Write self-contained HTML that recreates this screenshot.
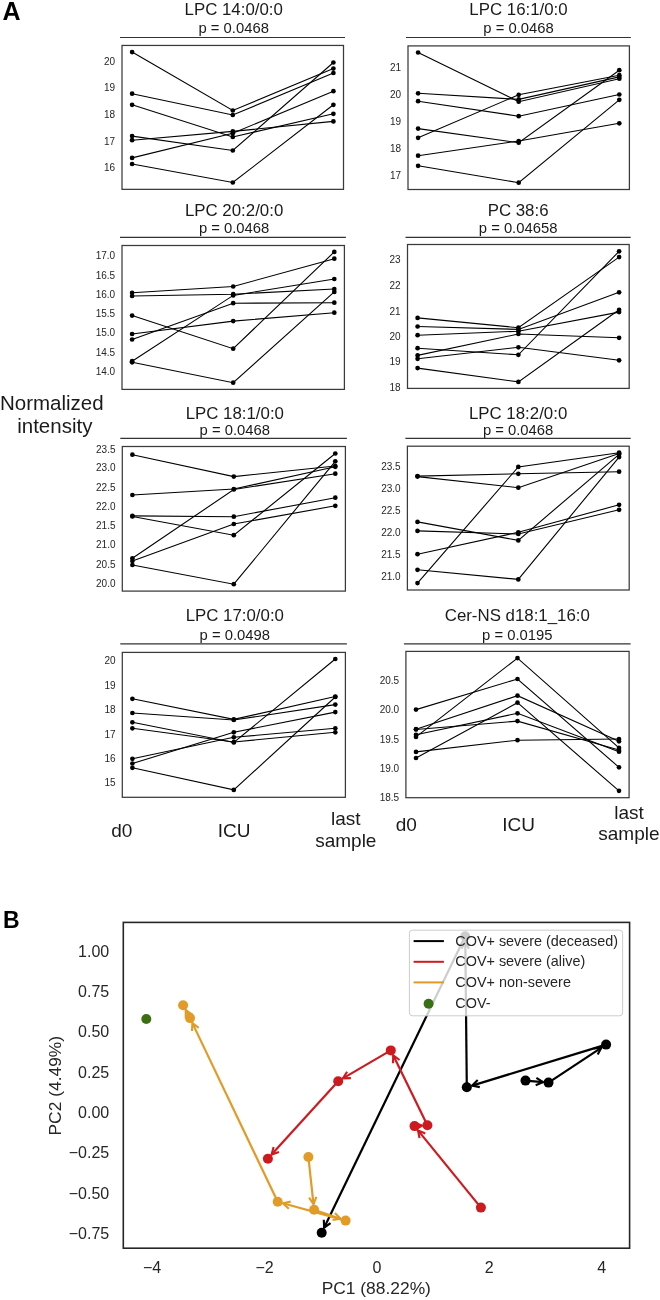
<!DOCTYPE html>
<html><head><meta charset="utf-8"><style>
html,body{margin:0;padding:0;background:#fff;}
body{width:660px;height:1300px;overflow:hidden;}
svg{display:block;font-family:"Liberation Sans",sans-serif;will-change:transform;}
</style></head><body>
<svg width="660" height="1300" viewBox="0 0 660 1300">
<rect width="660" height="1300" fill="#fff"/>
<text x="233.7" y="14.5" font-size="16.85" text-anchor="middle" font-weight="normal" fill="#1a1a1a" >LPC 14:0/0:0</text>
<text x="233.7" y="33.2" font-size="14.8" text-anchor="middle" font-weight="normal" fill="#1a1a1a" >p = 0.0468</text>
<line x1="120.0" y1="37.5" x2="345.0" y2="37.5" stroke="#333" stroke-width="1.2"/>
<rect x="122.0" y="45.45" width="221.5" height="143.9" fill="none" stroke="#3a3a3a" stroke-width="1.25"/>
<text x="115.2" y="64.8" font-size="10" text-anchor="end" font-weight="normal" fill="#262626" >20</text>
<text x="115.2" y="91.4" font-size="10" text-anchor="end" font-weight="normal" fill="#262626" >19</text>
<text x="115.2" y="117.9" font-size="10" text-anchor="end" font-weight="normal" fill="#262626" >18</text>
<text x="115.2" y="144.5" font-size="10" text-anchor="end" font-weight="normal" fill="#262626" >17</text>
<text x="115.2" y="171.3" font-size="10" text-anchor="end" font-weight="normal" fill="#262626" >16</text>
<polyline points="132.1,52.1 232.8,110.5 333.4,68.6" fill="none" stroke="#000" stroke-width="1.1"/>
<polyline points="132.1,93.7 232.8,115 333.4,73" fill="none" stroke="#000" stroke-width="1.1"/>
<polyline points="132.1,104.8 232.8,137 333.4,113.8" fill="none" stroke="#000" stroke-width="1.1"/>
<polyline points="132.1,136.1 232.8,150.5 333.4,62.5" fill="none" stroke="#000" stroke-width="1.1"/>
<polyline points="132.1,140.2 232.8,131.4 333.4,121.4" fill="none" stroke="#000" stroke-width="1.1"/>
<polyline points="132.1,157.9 232.8,133.2 333.4,91.2" fill="none" stroke="#000" stroke-width="1.1"/>
<polyline points="132.1,164 232.8,182.5 333.4,104.8" fill="none" stroke="#000" stroke-width="1.1"/>
<circle cx="132.1" cy="52.1" r="2.35" fill="#000"/>
<circle cx="232.8" cy="110.5" r="2.35" fill="#000"/>
<circle cx="333.4" cy="68.6" r="2.35" fill="#000"/>
<circle cx="132.1" cy="93.7" r="2.35" fill="#000"/>
<circle cx="232.8" cy="115" r="2.35" fill="#000"/>
<circle cx="333.4" cy="73" r="2.35" fill="#000"/>
<circle cx="132.1" cy="104.8" r="2.35" fill="#000"/>
<circle cx="232.8" cy="137" r="2.35" fill="#000"/>
<circle cx="333.4" cy="113.8" r="2.35" fill="#000"/>
<circle cx="132.1" cy="136.1" r="2.35" fill="#000"/>
<circle cx="232.8" cy="150.5" r="2.35" fill="#000"/>
<circle cx="333.4" cy="62.5" r="2.35" fill="#000"/>
<circle cx="132.1" cy="140.2" r="2.35" fill="#000"/>
<circle cx="232.8" cy="131.4" r="2.35" fill="#000"/>
<circle cx="333.4" cy="121.4" r="2.35" fill="#000"/>
<circle cx="132.1" cy="157.9" r="2.35" fill="#000"/>
<circle cx="232.8" cy="133.2" r="2.35" fill="#000"/>
<circle cx="333.4" cy="91.2" r="2.35" fill="#000"/>
<circle cx="132.1" cy="164" r="2.35" fill="#000"/>
<circle cx="232.8" cy="182.5" r="2.35" fill="#000"/>
<circle cx="333.4" cy="104.8" r="2.35" fill="#000"/>
<text x="518.5" y="14.5" font-size="16.85" text-anchor="middle" font-weight="normal" fill="#1a1a1a" >LPC 16:1/0:0</text>
<text x="518.5" y="33.2" font-size="14.8" text-anchor="middle" font-weight="normal" fill="#1a1a1a" >p = 0.0468</text>
<line x1="406.0" y1="37.5" x2="630.9" y2="37.5" stroke="#333" stroke-width="1.2"/>
<rect x="408.0" y="45.9" width="221.4" height="143.6" fill="none" stroke="#3a3a3a" stroke-width="1.25"/>
<text x="401.2" y="71.0" font-size="10" text-anchor="end" font-weight="normal" fill="#262626" >21</text>
<text x="401.2" y="97.7" font-size="10" text-anchor="end" font-weight="normal" fill="#262626" >20</text>
<text x="401.2" y="124.6" font-size="10" text-anchor="end" font-weight="normal" fill="#262626" >19</text>
<text x="401.2" y="151.7" font-size="10" text-anchor="end" font-weight="normal" fill="#262626" >18</text>
<text x="401.2" y="178.5" font-size="10" text-anchor="end" font-weight="normal" fill="#262626" >17</text>
<polyline points="418.1,52.5 518.7,101.7 619.3,78.7" fill="none" stroke="#000" stroke-width="1.1"/>
<polyline points="418.1,93.3 518.7,99.4 619.3,76.9" fill="none" stroke="#000" stroke-width="1.1"/>
<polyline points="418.1,101.2 518.7,116.2 619.3,94.5" fill="none" stroke="#000" stroke-width="1.1"/>
<polyline points="418.1,128.6 518.7,142.7 619.3,70.2" fill="none" stroke="#000" stroke-width="1.1"/>
<polyline points="418.1,137.8 518.7,94.8 619.3,75.2" fill="none" stroke="#000" stroke-width="1.1"/>
<polyline points="418.1,155.7 518.7,141 619.3,123.3" fill="none" stroke="#000" stroke-width="1.1"/>
<polyline points="418.1,165.8 518.7,182.7 619.3,99.8" fill="none" stroke="#000" stroke-width="1.1"/>
<circle cx="418.1" cy="52.5" r="2.35" fill="#000"/>
<circle cx="518.7" cy="101.7" r="2.35" fill="#000"/>
<circle cx="619.3" cy="78.7" r="2.35" fill="#000"/>
<circle cx="418.1" cy="93.3" r="2.35" fill="#000"/>
<circle cx="518.7" cy="99.4" r="2.35" fill="#000"/>
<circle cx="619.3" cy="76.9" r="2.35" fill="#000"/>
<circle cx="418.1" cy="101.2" r="2.35" fill="#000"/>
<circle cx="518.7" cy="116.2" r="2.35" fill="#000"/>
<circle cx="619.3" cy="94.5" r="2.35" fill="#000"/>
<circle cx="418.1" cy="128.6" r="2.35" fill="#000"/>
<circle cx="518.7" cy="142.7" r="2.35" fill="#000"/>
<circle cx="619.3" cy="70.2" r="2.35" fill="#000"/>
<circle cx="418.1" cy="137.8" r="2.35" fill="#000"/>
<circle cx="518.7" cy="94.8" r="2.35" fill="#000"/>
<circle cx="619.3" cy="75.2" r="2.35" fill="#000"/>
<circle cx="418.1" cy="155.7" r="2.35" fill="#000"/>
<circle cx="518.7" cy="141" r="2.35" fill="#000"/>
<circle cx="619.3" cy="123.3" r="2.35" fill="#000"/>
<circle cx="418.1" cy="165.8" r="2.35" fill="#000"/>
<circle cx="518.7" cy="182.7" r="2.35" fill="#000"/>
<circle cx="619.3" cy="99.8" r="2.35" fill="#000"/>
<text x="234.1" y="215.9" font-size="16.85" text-anchor="middle" font-weight="normal" fill="#1a1a1a" >LPC 20:2/0:0</text>
<text x="234.1" y="233.2" font-size="14.8" text-anchor="middle" font-weight="normal" fill="#1a1a1a" >p = 0.0468</text>
<line x1="120.0" y1="237.4" x2="345.9" y2="237.4" stroke="#333" stroke-width="1.2"/>
<rect x="122.0" y="245.5" width="222.4" height="143.9" fill="none" stroke="#3a3a3a" stroke-width="1.25"/>
<text x="115.2" y="259.1" font-size="10" text-anchor="end" font-weight="normal" fill="#262626" >17.0</text>
<text x="115.2" y="278.5" font-size="10" text-anchor="end" font-weight="normal" fill="#262626" >16.5</text>
<text x="115.2" y="297.7" font-size="10" text-anchor="end" font-weight="normal" fill="#262626" >16.0</text>
<text x="115.2" y="317.1" font-size="10" text-anchor="end" font-weight="normal" fill="#262626" >15.5</text>
<text x="115.2" y="336.4" font-size="10" text-anchor="end" font-weight="normal" fill="#262626" >15.0</text>
<text x="115.2" y="356.0" font-size="10" text-anchor="end" font-weight="normal" fill="#262626" >14.5</text>
<text x="115.2" y="375.4" font-size="10" text-anchor="end" font-weight="normal" fill="#262626" >14.0</text>
<polyline points="132.1,292.8 233.2,286.5 334.3,258.7" fill="none" stroke="#000" stroke-width="1.1"/>
<polyline points="132.1,296 233.2,294.2 334.3,289" fill="none" stroke="#000" stroke-width="1.1"/>
<polyline points="132.1,315.6 233.2,348.7 334.3,251.9" fill="none" stroke="#000" stroke-width="1.1"/>
<polyline points="132.1,334 233.2,321.1 334.3,312.7" fill="none" stroke="#000" stroke-width="1.1"/>
<polyline points="132.1,339.5 233.2,303.2 334.3,302.7" fill="none" stroke="#000" stroke-width="1.1"/>
<polyline points="132.1,361.2 233.2,295.4 334.3,279" fill="none" stroke="#000" stroke-width="1.1"/>
<polyline points="132.1,362.3 233.2,382.7 334.3,291.9" fill="none" stroke="#000" stroke-width="1.1"/>
<circle cx="132.1" cy="292.8" r="2.35" fill="#000"/>
<circle cx="233.2" cy="286.5" r="2.35" fill="#000"/>
<circle cx="334.3" cy="258.7" r="2.35" fill="#000"/>
<circle cx="132.1" cy="296" r="2.35" fill="#000"/>
<circle cx="233.2" cy="294.2" r="2.35" fill="#000"/>
<circle cx="334.3" cy="289" r="2.35" fill="#000"/>
<circle cx="132.1" cy="315.6" r="2.35" fill="#000"/>
<circle cx="233.2" cy="348.7" r="2.35" fill="#000"/>
<circle cx="334.3" cy="251.9" r="2.35" fill="#000"/>
<circle cx="132.1" cy="334" r="2.35" fill="#000"/>
<circle cx="233.2" cy="321.1" r="2.35" fill="#000"/>
<circle cx="334.3" cy="312.7" r="2.35" fill="#000"/>
<circle cx="132.1" cy="339.5" r="2.35" fill="#000"/>
<circle cx="233.2" cy="303.2" r="2.35" fill="#000"/>
<circle cx="334.3" cy="302.7" r="2.35" fill="#000"/>
<circle cx="132.1" cy="361.2" r="2.35" fill="#000"/>
<circle cx="233.2" cy="295.4" r="2.35" fill="#000"/>
<circle cx="334.3" cy="279" r="2.35" fill="#000"/>
<circle cx="132.1" cy="362.3" r="2.35" fill="#000"/>
<circle cx="233.2" cy="382.7" r="2.35" fill="#000"/>
<circle cx="334.3" cy="291.9" r="2.35" fill="#000"/>
<text x="518.1" y="215.9" font-size="16.85" text-anchor="middle" font-weight="normal" fill="#1a1a1a" >PC 38:6</text>
<text x="518.1" y="233.2" font-size="14.8" text-anchor="middle" font-weight="normal" fill="#1a1a1a" >p = 0.04658</text>
<line x1="405.5" y1="237.4" x2="630.7" y2="237.4" stroke="#333" stroke-width="1.2"/>
<rect x="407.5" y="244.5" width="221.7" height="143.9" fill="none" stroke="#3a3a3a" stroke-width="1.25"/>
<text x="400.7" y="263.3" font-size="10" text-anchor="end" font-weight="normal" fill="#262626" >23</text>
<text x="400.7" y="288.7" font-size="10" text-anchor="end" font-weight="normal" fill="#262626" >22</text>
<text x="400.7" y="314.5" font-size="10" text-anchor="end" font-weight="normal" fill="#262626" >21</text>
<text x="400.7" y="339.8" font-size="10" text-anchor="end" font-weight="normal" fill="#262626" >20</text>
<text x="400.7" y="365.2" font-size="10" text-anchor="end" font-weight="normal" fill="#262626" >19</text>
<text x="400.7" y="391.3" font-size="10" text-anchor="end" font-weight="normal" fill="#262626" >18</text>
<polyline points="417.6,317.9 518.4,327.7 619.1,257.1" fill="none" stroke="#000" stroke-width="1.1"/>
<polyline points="417.6,326.5 518.4,329.4 619.1,292.3" fill="none" stroke="#000" stroke-width="1.1"/>
<polyline points="417.6,335.2 518.4,331.2 619.1,312.1" fill="none" stroke="#000" stroke-width="1.1"/>
<polyline points="417.6,348.2 518.4,354.8 619.1,251.3" fill="none" stroke="#000" stroke-width="1.1"/>
<polyline points="417.6,355.4 518.4,334 619.1,337.8" fill="none" stroke="#000" stroke-width="1.1"/>
<polyline points="417.6,358.8 518.4,347.3 619.1,360.3" fill="none" stroke="#000" stroke-width="1.1"/>
<polyline points="417.6,368.1 518.4,381.9 619.1,309.8" fill="none" stroke="#000" stroke-width="1.1"/>
<circle cx="417.6" cy="317.9" r="2.35" fill="#000"/>
<circle cx="518.4" cy="327.7" r="2.35" fill="#000"/>
<circle cx="619.1" cy="257.1" r="2.35" fill="#000"/>
<circle cx="417.6" cy="326.5" r="2.35" fill="#000"/>
<circle cx="518.4" cy="329.4" r="2.35" fill="#000"/>
<circle cx="619.1" cy="292.3" r="2.35" fill="#000"/>
<circle cx="417.6" cy="335.2" r="2.35" fill="#000"/>
<circle cx="518.4" cy="331.2" r="2.35" fill="#000"/>
<circle cx="619.1" cy="312.1" r="2.35" fill="#000"/>
<circle cx="417.6" cy="348.2" r="2.35" fill="#000"/>
<circle cx="518.4" cy="354.8" r="2.35" fill="#000"/>
<circle cx="619.1" cy="251.3" r="2.35" fill="#000"/>
<circle cx="417.6" cy="355.4" r="2.35" fill="#000"/>
<circle cx="518.4" cy="334" r="2.35" fill="#000"/>
<circle cx="619.1" cy="337.8" r="2.35" fill="#000"/>
<circle cx="417.6" cy="358.8" r="2.35" fill="#000"/>
<circle cx="518.4" cy="347.3" r="2.35" fill="#000"/>
<circle cx="619.1" cy="360.3" r="2.35" fill="#000"/>
<circle cx="417.6" cy="368.1" r="2.35" fill="#000"/>
<circle cx="518.4" cy="381.9" r="2.35" fill="#000"/>
<circle cx="619.1" cy="309.8" r="2.35" fill="#000"/>
<text x="234.8" y="418.6" font-size="16.85" text-anchor="middle" font-weight="normal" fill="#1a1a1a" >LPC 18:1/0:0</text>
<text x="234.8" y="434.5" font-size="14.8" text-anchor="middle" font-weight="normal" fill="#1a1a1a" >p = 0.0468</text>
<line x1="120.3" y1="438.4" x2="346.9" y2="438.4" stroke="#333" stroke-width="1.2"/>
<rect x="122.3" y="446.5" width="223.1" height="144.6" fill="none" stroke="#3a3a3a" stroke-width="1.25"/>
<text x="115.5" y="452.5" font-size="10" text-anchor="end" font-weight="normal" fill="#262626" >23.5</text>
<text x="115.5" y="471.2" font-size="10" text-anchor="end" font-weight="normal" fill="#262626" >23.0</text>
<text x="115.5" y="490.6" font-size="10" text-anchor="end" font-weight="normal" fill="#262626" >22.5</text>
<text x="115.5" y="509.8" font-size="10" text-anchor="end" font-weight="normal" fill="#262626" >22.0</text>
<text x="115.5" y="529.1" font-size="10" text-anchor="end" font-weight="normal" fill="#262626" >21.5</text>
<text x="115.5" y="548.3" font-size="10" text-anchor="end" font-weight="normal" fill="#262626" >21.0</text>
<text x="115.5" y="567.5" font-size="10" text-anchor="end" font-weight="normal" fill="#262626" >20.5</text>
<text x="115.5" y="586.6" font-size="10" text-anchor="end" font-weight="normal" fill="#262626" >20.0</text>
<polyline points="132.4,454.7 233.8,476.6 335.3,466" fill="none" stroke="#000" stroke-width="1.1"/>
<polyline points="132.4,495 233.8,489 335.3,466.8" fill="none" stroke="#000" stroke-width="1.1"/>
<polyline points="132.4,515.9 233.8,516.7 335.3,497.7" fill="none" stroke="#000" stroke-width="1.1"/>
<polyline points="132.4,516.5 233.8,535.2 335.3,453.5" fill="none" stroke="#000" stroke-width="1.1"/>
<polyline points="132.4,558.3 233.8,489.5 335.3,473.7" fill="none" stroke="#000" stroke-width="1.1"/>
<polyline points="132.4,561 233.8,524 335.3,505.8" fill="none" stroke="#000" stroke-width="1.1"/>
<polyline points="132.4,565 233.8,584.2 335.3,461.3" fill="none" stroke="#000" stroke-width="1.1"/>
<circle cx="132.4" cy="454.7" r="2.35" fill="#000"/>
<circle cx="233.8" cy="476.6" r="2.35" fill="#000"/>
<circle cx="335.3" cy="466" r="2.35" fill="#000"/>
<circle cx="132.4" cy="495" r="2.35" fill="#000"/>
<circle cx="233.8" cy="489" r="2.35" fill="#000"/>
<circle cx="335.3" cy="466.8" r="2.35" fill="#000"/>
<circle cx="132.4" cy="515.9" r="2.35" fill="#000"/>
<circle cx="233.8" cy="516.7" r="2.35" fill="#000"/>
<circle cx="335.3" cy="497.7" r="2.35" fill="#000"/>
<circle cx="132.4" cy="516.5" r="2.35" fill="#000"/>
<circle cx="233.8" cy="535.2" r="2.35" fill="#000"/>
<circle cx="335.3" cy="453.5" r="2.35" fill="#000"/>
<circle cx="132.4" cy="558.3" r="2.35" fill="#000"/>
<circle cx="233.8" cy="489.5" r="2.35" fill="#000"/>
<circle cx="335.3" cy="473.7" r="2.35" fill="#000"/>
<circle cx="132.4" cy="561" r="2.35" fill="#000"/>
<circle cx="233.8" cy="524" r="2.35" fill="#000"/>
<circle cx="335.3" cy="505.8" r="2.35" fill="#000"/>
<circle cx="132.4" cy="565" r="2.35" fill="#000"/>
<circle cx="233.8" cy="584.2" r="2.35" fill="#000"/>
<circle cx="335.3" cy="461.3" r="2.35" fill="#000"/>
<text x="518.1" y="418.6" font-size="16.85" text-anchor="middle" font-weight="normal" fill="#1a1a1a" >LPC 18:2/0:0</text>
<text x="518.1" y="434.5" font-size="14.8" text-anchor="middle" font-weight="normal" fill="#1a1a1a" >p = 0.0468</text>
<line x1="405.4" y1="438.4" x2="630.7" y2="438.4" stroke="#333" stroke-width="1.2"/>
<rect x="407.4" y="446.2" width="221.8" height="143.8" fill="none" stroke="#3a3a3a" stroke-width="1.25"/>
<text x="400.6" y="469.8" font-size="10" text-anchor="end" font-weight="normal" fill="#262626" >23.5</text>
<text x="400.6" y="492.0" font-size="10" text-anchor="end" font-weight="normal" fill="#262626" >23.0</text>
<text x="400.6" y="513.9" font-size="10" text-anchor="end" font-weight="normal" fill="#262626" >22.5</text>
<text x="400.6" y="535.8" font-size="10" text-anchor="end" font-weight="normal" fill="#262626" >22.0</text>
<text x="400.6" y="558.1" font-size="10" text-anchor="end" font-weight="normal" fill="#262626" >21.5</text>
<text x="400.6" y="580.2" font-size="10" text-anchor="end" font-weight="normal" fill="#262626" >21.0</text>
<polyline points="417.5,476.1 518.3,473.8 619.1,471.7" fill="none" stroke="#000" stroke-width="1.1"/>
<polyline points="417.5,476.6 518.3,487.7 619.1,453.5" fill="none" stroke="#000" stroke-width="1.1"/>
<polyline points="417.5,521.9 518.3,540.4 619.1,454.4" fill="none" stroke="#000" stroke-width="1.1"/>
<polyline points="417.5,530.9 518.3,534 619.1,509.8" fill="none" stroke="#000" stroke-width="1.1"/>
<polyline points="417.5,554.2 518.3,532.3 619.1,504.8" fill="none" stroke="#000" stroke-width="1.1"/>
<polyline points="417.5,569.8 518.3,579.4 619.1,457.1" fill="none" stroke="#000" stroke-width="1.1"/>
<polyline points="417.5,583.1 518.3,466.9 619.1,452.7" fill="none" stroke="#000" stroke-width="1.1"/>
<circle cx="417.5" cy="476.1" r="2.35" fill="#000"/>
<circle cx="518.3" cy="473.8" r="2.35" fill="#000"/>
<circle cx="619.1" cy="471.7" r="2.35" fill="#000"/>
<circle cx="417.5" cy="476.6" r="2.35" fill="#000"/>
<circle cx="518.3" cy="487.7" r="2.35" fill="#000"/>
<circle cx="619.1" cy="453.5" r="2.35" fill="#000"/>
<circle cx="417.5" cy="521.9" r="2.35" fill="#000"/>
<circle cx="518.3" cy="540.4" r="2.35" fill="#000"/>
<circle cx="619.1" cy="454.4" r="2.35" fill="#000"/>
<circle cx="417.5" cy="530.9" r="2.35" fill="#000"/>
<circle cx="518.3" cy="534" r="2.35" fill="#000"/>
<circle cx="619.1" cy="509.8" r="2.35" fill="#000"/>
<circle cx="417.5" cy="554.2" r="2.35" fill="#000"/>
<circle cx="518.3" cy="532.3" r="2.35" fill="#000"/>
<circle cx="619.1" cy="504.8" r="2.35" fill="#000"/>
<circle cx="417.5" cy="569.8" r="2.35" fill="#000"/>
<circle cx="518.3" cy="579.4" r="2.35" fill="#000"/>
<circle cx="619.1" cy="457.1" r="2.35" fill="#000"/>
<circle cx="417.5" cy="583.1" r="2.35" fill="#000"/>
<circle cx="518.3" cy="466.9" r="2.35" fill="#000"/>
<circle cx="619.1" cy="452.7" r="2.35" fill="#000"/>
<text x="234.8" y="620.9" font-size="16.85" text-anchor="middle" font-weight="normal" fill="#1a1a1a" >LPC 17:0/0:0</text>
<text x="234.8" y="639.5" font-size="14.8" text-anchor="middle" font-weight="normal" fill="#1a1a1a" >p = 0.0498</text>
<line x1="120.3" y1="643.9" x2="346.9" y2="643.9" stroke="#333" stroke-width="1.2"/>
<rect x="122.3" y="652.4" width="223.1" height="144.9" fill="none" stroke="#3a3a3a" stroke-width="1.25"/>
<text x="115.5" y="664.3" font-size="10" text-anchor="end" font-weight="normal" fill="#262626" >20</text>
<text x="115.5" y="688.7" font-size="10" text-anchor="end" font-weight="normal" fill="#262626" >19</text>
<text x="115.5" y="713.3" font-size="10" text-anchor="end" font-weight="normal" fill="#262626" >18</text>
<text x="115.5" y="737.5" font-size="10" text-anchor="end" font-weight="normal" fill="#262626" >17</text>
<text x="115.5" y="761.8" font-size="10" text-anchor="end" font-weight="normal" fill="#262626" >16</text>
<text x="115.5" y="786.3" font-size="10" text-anchor="end" font-weight="normal" fill="#262626" >15</text>
<polyline points="132.4,698.8 233.8,719.4 335.3,696.5" fill="none" stroke="#000" stroke-width="1.1"/>
<polyline points="132.4,713 233.8,720 335.3,704.6" fill="none" stroke="#000" stroke-width="1.1"/>
<polyline points="132.4,722.3 233.8,742.5 335.3,659" fill="none" stroke="#000" stroke-width="1.1"/>
<polyline points="132.4,728.3 233.8,742 335.3,732.3" fill="none" stroke="#000" stroke-width="1.1"/>
<polyline points="132.4,758.8 233.8,737.3 335.3,728.3" fill="none" stroke="#000" stroke-width="1.1"/>
<polyline points="132.4,763.5 233.8,732.3 335.3,712.1" fill="none" stroke="#000" stroke-width="1.1"/>
<polyline points="132.4,767.8 233.8,789.9 335.3,697" fill="none" stroke="#000" stroke-width="1.1"/>
<circle cx="132.4" cy="698.8" r="2.35" fill="#000"/>
<circle cx="233.8" cy="719.4" r="2.35" fill="#000"/>
<circle cx="335.3" cy="696.5" r="2.35" fill="#000"/>
<circle cx="132.4" cy="713" r="2.35" fill="#000"/>
<circle cx="233.8" cy="720" r="2.35" fill="#000"/>
<circle cx="335.3" cy="704.6" r="2.35" fill="#000"/>
<circle cx="132.4" cy="722.3" r="2.35" fill="#000"/>
<circle cx="233.8" cy="742.5" r="2.35" fill="#000"/>
<circle cx="335.3" cy="659" r="2.35" fill="#000"/>
<circle cx="132.4" cy="728.3" r="2.35" fill="#000"/>
<circle cx="233.8" cy="742" r="2.35" fill="#000"/>
<circle cx="335.3" cy="732.3" r="2.35" fill="#000"/>
<circle cx="132.4" cy="758.8" r="2.35" fill="#000"/>
<circle cx="233.8" cy="737.3" r="2.35" fill="#000"/>
<circle cx="335.3" cy="728.3" r="2.35" fill="#000"/>
<circle cx="132.4" cy="763.5" r="2.35" fill="#000"/>
<circle cx="233.8" cy="732.3" r="2.35" fill="#000"/>
<circle cx="335.3" cy="712.1" r="2.35" fill="#000"/>
<circle cx="132.4" cy="767.8" r="2.35" fill="#000"/>
<circle cx="233.8" cy="789.9" r="2.35" fill="#000"/>
<circle cx="335.3" cy="697" r="2.35" fill="#000"/>
<text x="517.3" y="620.9" font-size="16.85" text-anchor="middle" font-weight="normal" fill="#1a1a1a" >Cer-NS d18:1_16:0</text>
<text x="517.3" y="639.5" font-size="14.8" text-anchor="middle" font-weight="normal" fill="#1a1a1a" >p = 0.0195</text>
<line x1="403.9" y1="643.9" x2="630.6" y2="643.9" stroke="#333" stroke-width="1.2"/>
<rect x="405.9" y="651.4" width="223.2" height="146.3" fill="none" stroke="#3a3a3a" stroke-width="1.25"/>
<text x="399.1" y="683.9" font-size="10" text-anchor="end" font-weight="normal" fill="#262626" >20.5</text>
<text x="399.1" y="713.1" font-size="10" text-anchor="end" font-weight="normal" fill="#262626" >20.0</text>
<text x="399.1" y="742.7" font-size="10" text-anchor="end" font-weight="normal" fill="#262626" >19.5</text>
<text x="399.1" y="771.6" font-size="10" text-anchor="end" font-weight="normal" fill="#262626" >19.0</text>
<text x="399.1" y="801.1" font-size="10" text-anchor="end" font-weight="normal" fill="#262626" >18.5</text>
<polyline points="416.0,709.6 517.5,679 619.0,767.3" fill="none" stroke="#000" stroke-width="1.1"/>
<polyline points="416.0,729.2 517.5,695.7 619.0,741.3" fill="none" stroke="#000" stroke-width="1.1"/>
<polyline points="416.0,736.9 517.5,658.1 619.0,747.9" fill="none" stroke="#000" stroke-width="1.1"/>
<polyline points="416.0,758 517.5,702.7 619.0,790.8" fill="none" stroke="#000" stroke-width="1.1"/>
<polyline points="416.0,734.8 517.5,713.3 619.0,751.7" fill="none" stroke="#000" stroke-width="1.1"/>
<polyline points="416.0,729.5 517.5,721.1 619.0,750" fill="none" stroke="#000" stroke-width="1.1"/>
<polyline points="416.0,751.9 517.5,740.2 619.0,739" fill="none" stroke="#000" stroke-width="1.1"/>
<circle cx="416.0" cy="709.6" r="2.35" fill="#000"/>
<circle cx="517.5" cy="679" r="2.35" fill="#000"/>
<circle cx="619.0" cy="767.3" r="2.35" fill="#000"/>
<circle cx="416.0" cy="729.2" r="2.35" fill="#000"/>
<circle cx="517.5" cy="695.7" r="2.35" fill="#000"/>
<circle cx="619.0" cy="741.3" r="2.35" fill="#000"/>
<circle cx="416.0" cy="736.9" r="2.35" fill="#000"/>
<circle cx="517.5" cy="658.1" r="2.35" fill="#000"/>
<circle cx="619.0" cy="747.9" r="2.35" fill="#000"/>
<circle cx="416.0" cy="758" r="2.35" fill="#000"/>
<circle cx="517.5" cy="702.7" r="2.35" fill="#000"/>
<circle cx="619.0" cy="790.8" r="2.35" fill="#000"/>
<circle cx="416.0" cy="734.8" r="2.35" fill="#000"/>
<circle cx="517.5" cy="713.3" r="2.35" fill="#000"/>
<circle cx="619.0" cy="751.7" r="2.35" fill="#000"/>
<circle cx="416.0" cy="729.5" r="2.35" fill="#000"/>
<circle cx="517.5" cy="721.1" r="2.35" fill="#000"/>
<circle cx="619.0" cy="750" r="2.35" fill="#000"/>
<circle cx="416.0" cy="751.9" r="2.35" fill="#000"/>
<circle cx="517.5" cy="740.2" r="2.35" fill="#000"/>
<circle cx="619.0" cy="739" r="2.35" fill="#000"/>
<text x="2.5" y="20.0" font-size="25" text-anchor="start" font-weight="bold" fill="#000" >A</text>
<text x="3.0" y="928.2" font-size="23" text-anchor="start" font-weight="bold" fill="#000" >B</text>
<text x="51.8" y="410.0" font-size="20.5" text-anchor="middle" font-weight="normal" fill="#1a1a1a" >Normalized</text>
<text x="54.8" y="432.7" font-size="20.5" text-anchor="middle" font-weight="normal" fill="#1a1a1a" >intensity</text>
<text x="121.8" y="837.3" font-size="19" text-anchor="middle" font-weight="normal" fill="#1a1a1a" >d0</text>
<text x="234.0" y="837.3" font-size="19" text-anchor="middle" font-weight="normal" fill="#1a1a1a" >ICU</text>
<text x="345.8" y="825.3" font-size="19" text-anchor="middle" font-weight="normal" fill="#1a1a1a" >last</text>
<text x="345.8" y="846.7" font-size="19" text-anchor="middle" font-weight="normal" fill="#1a1a1a" >sample</text>
<text x="406.2" y="831.1" font-size="19" text-anchor="middle" font-weight="normal" fill="#1a1a1a" >d0</text>
<text x="518.6" y="830.8" font-size="19" text-anchor="middle" font-weight="normal" fill="#1a1a1a" >ICU</text>
<text x="629.0" y="819.0" font-size="19" text-anchor="middle" font-weight="normal" fill="#1a1a1a" >last</text>
<text x="628.9" y="840.2" font-size="19" text-anchor="middle" font-weight="normal" fill="#1a1a1a" >sample</text>
<text x="152.1" y="1273.1" font-size="16" text-anchor="middle" font-weight="normal" fill="#262626" >−4</text>
<text x="264.5" y="1273.1" font-size="16" text-anchor="middle" font-weight="normal" fill="#262626" >−2</text>
<text x="376.9" y="1273.1" font-size="16" text-anchor="middle" font-weight="normal" fill="#262626" >0</text>
<text x="489.3" y="1273.1" font-size="16" text-anchor="middle" font-weight="normal" fill="#262626" >2</text>
<text x="601.7" y="1273.1" font-size="16" text-anchor="middle" font-weight="normal" fill="#262626" >4</text>
<text x="109.2" y="956.5" font-size="16" text-anchor="end" font-weight="normal" fill="#262626" >1.00</text>
<text x="109.2" y="996.9" font-size="16" text-anchor="end" font-weight="normal" fill="#262626" >0.75</text>
<text x="109.2" y="1037.2" font-size="16" text-anchor="end" font-weight="normal" fill="#262626" >0.50</text>
<text x="109.2" y="1077.6" font-size="16" text-anchor="end" font-weight="normal" fill="#262626" >0.25</text>
<text x="109.2" y="1117.9" font-size="16" text-anchor="end" font-weight="normal" fill="#262626" >0.00</text>
<text x="109.2" y="1158.2" font-size="16" text-anchor="end" font-weight="normal" fill="#262626" >−0.25</text>
<text x="109.2" y="1198.6" font-size="16" text-anchor="end" font-weight="normal" fill="#262626" >−0.50</text>
<text x="109.2" y="1239.0" font-size="16" text-anchor="end" font-weight="normal" fill="#262626" >−0.75</text>
<text x="376.3" y="1294.2" font-size="17.4" text-anchor="middle" font-weight="normal" fill="#262626" >PC1 (88.22%)</text>
<text x="0" y="0" font-size="17.4" text-anchor="middle" fill="#262626" transform="translate(60.8,1085.7) rotate(-90)">PC2 (4.49%)</text>
<line x1="525.5" y1="1080.6" x2="543.0" y2="1082.1" stroke="#000000" stroke-width="2.2"/>
<polyline points="535.7,1085.2 543.0,1082.1 536.4,1077.8" fill="none" stroke="#000000" stroke-width="2.1" stroke-linejoin="miter"/>
<line x1="548.5" y1="1082.6" x2="601.5" y2="1047.6" stroke="#000000" stroke-width="2.2"/>
<polyline points="597.7,1054.6 601.5,1047.6 593.6,1048.4" fill="none" stroke="#000000" stroke-width="2.1" stroke-linejoin="miter"/>
<line x1="606.1" y1="1044.6" x2="472.1" y2="1085.6" stroke="#000000" stroke-width="2.2"/>
<polyline points="477.7,1080.0 472.1,1085.6 479.8,1087.1" fill="none" stroke="#000000" stroke-width="2.1" stroke-linejoin="miter"/>
<line x1="466.8" y1="1087.2" x2="465.3" y2="941.7" stroke="#000000" stroke-width="2.2"/>
<polyline points="469.0,948.7 465.3,941.7 461.6,948.7" fill="none" stroke="#000000" stroke-width="2.1" stroke-linejoin="miter"/>
<line x1="465.2" y1="936.2" x2="324.1" y2="1227.7" stroke="#000000" stroke-width="2.2"/>
<polyline points="323.8,1219.8 324.1,1227.7 330.5,1223.1" fill="none" stroke="#000000" stroke-width="2.1" stroke-linejoin="miter"/>
<circle cx="525.5" cy="1080.6" r="5" fill="#000000"/>
<circle cx="548.5" cy="1082.6" r="5" fill="#000000"/>
<circle cx="606.1" cy="1044.6" r="5" fill="#000000"/>
<circle cx="466.8" cy="1087.2" r="5" fill="#000000"/>
<circle cx="465.2" cy="936.2" r="5" fill="#000000"/>
<circle cx="321.7" cy="1232.7" r="5" fill="#000000"/>
<line x1="480.9" y1="1207.6" x2="418.0" y2="1130.4" stroke="#cd1a1f" stroke-width="2.2"/>
<polyline points="425.3,1133.5 418.0,1130.4 419.5,1138.1" fill="none" stroke="#cd1a1f" stroke-width="2.1" stroke-linejoin="miter"/>
<line x1="414.5" y1="1126.1" x2="421.9" y2="1125.6" stroke="#cd1a1f" stroke-width="2.2"/>
<polyline points="415.2,1129.8 421.9,1125.6 414.7,1122.4" fill="none" stroke="#cd1a1f" stroke-width="2.1" stroke-linejoin="miter"/>
<line x1="427.4" y1="1125.3" x2="393.2" y2="1055.3" stroke="#cd1a1f" stroke-width="2.2"/>
<polyline points="399.6,1060.0 393.2,1055.3 393.0,1063.3" fill="none" stroke="#cd1a1f" stroke-width="2.1" stroke-linejoin="miter"/>
<line x1="390.8" y1="1050.4" x2="342.9" y2="1078.4" stroke="#cd1a1f" stroke-width="2.2"/>
<polyline points="347.1,1071.7 342.9,1078.4 350.9,1078.1" fill="none" stroke="#cd1a1f" stroke-width="2.1" stroke-linejoin="miter"/>
<line x1="338.2" y1="1081.2" x2="271.6" y2="1154.6" stroke="#cd1a1f" stroke-width="2.2"/>
<polyline points="273.6,1147.0 271.6,1154.6 279.0,1151.9" fill="none" stroke="#cd1a1f" stroke-width="2.1" stroke-linejoin="miter"/>
<circle cx="480.9" cy="1207.6" r="5" fill="#cd1a1f"/>
<circle cx="414.5" cy="1126.1" r="5" fill="#cd1a1f"/>
<circle cx="427.4" cy="1125.3" r="5" fill="#cd1a1f"/>
<circle cx="390.8" cy="1050.4" r="5" fill="#cd1a1f"/>
<circle cx="338.2" cy="1081.2" r="5" fill="#cd1a1f"/>
<circle cx="267.9" cy="1158.7" r="5" fill="#cd1a1f"/>
<line x1="308.4" y1="1157.0" x2="313.5" y2="1204.2" stroke="#e29b27" stroke-width="2.2"/>
<polyline points="309.1,1197.7 313.5,1204.2 316.4,1196.9" fill="none" stroke="#e29b27" stroke-width="2.1" stroke-linejoin="miter"/>
<line x1="314.1" y1="1209.7" x2="340.4" y2="1218.8" stroke="#e29b27" stroke-width="2.2"/>
<polyline points="332.6,1220.0 340.4,1218.8 335.0,1213.0" fill="none" stroke="#e29b27" stroke-width="2.1" stroke-linejoin="miter"/>
<line x1="345.6" y1="1220.6" x2="283.0" y2="1203.3" stroke="#e29b27" stroke-width="2.2"/>
<polyline points="290.7,1201.6 283.0,1203.3 288.8,1208.7" fill="none" stroke="#e29b27" stroke-width="2.1" stroke-linejoin="miter"/>
<line x1="277.7" y1="1201.8" x2="192.4" y2="1023.1" stroke="#e29b27" stroke-width="2.2"/>
<polyline points="198.7,1027.8 192.4,1023.1 192.0,1031.0" fill="none" stroke="#e29b27" stroke-width="2.1" stroke-linejoin="miter"/>
<line x1="190.0" y1="1018.1" x2="185.7" y2="1010.0" stroke="#e29b27" stroke-width="2.2"/>
<polyline points="192.3,1014.5 185.7,1010.0 185.7,1018.0" fill="none" stroke="#e29b27" stroke-width="2.1" stroke-linejoin="miter"/>
<circle cx="308.4" cy="1157" r="5" fill="#e29b27"/>
<circle cx="314.1" cy="1209.7" r="5" fill="#e29b27"/>
<circle cx="345.6" cy="1220.6" r="5" fill="#e29b27"/>
<circle cx="277.7" cy="1201.8" r="5" fill="#e29b27"/>
<circle cx="190" cy="1018.1" r="5" fill="#e29b27"/>
<circle cx="183.1" cy="1005.2" r="5" fill="#e29b27"/>
<circle cx="146.3" cy="1019" r="5" fill="#3a6f14"/>
<rect x="123.3" y="922.4" width="506.3" height="325.8" fill="none" stroke="#262626" stroke-width="1.6"/>
<rect x="409.4" y="930.2" width="213.2" height="85.6" rx="3" ry="3" fill="#ffffff" fill-opacity="0.8" stroke="#cccccc" stroke-width="1"/>
<line x1="413.6" y1="941.1" x2="443.9" y2="941.1" stroke="#000000" stroke-width="2"/>
<line x1="413.6" y1="961.8" x2="443.9" y2="961.8" stroke="#cd1a1f" stroke-width="2"/>
<line x1="413.6" y1="982.4" x2="443.9" y2="982.4" stroke="#e29b27" stroke-width="2"/>
<circle cx="428.6" cy="1003.8" r="5" fill="#3a6f14"/>
<text x="455.3" y="945.6" font-size="14.4" text-anchor="start" font-weight="normal" fill="#262626" >COV+ severe (deceased)</text>
<text x="455.3" y="966.3" font-size="14.4" text-anchor="start" font-weight="normal" fill="#262626" >COV+ severe (alive)</text>
<text x="455.3" y="987.0" font-size="14.4" text-anchor="start" font-weight="normal" fill="#262626" >COV+ non-severe</text>
<text x="455.3" y="1007.7" font-size="14.4" text-anchor="start" font-weight="normal" fill="#262626" >COV-</text>
</svg></body></html>
